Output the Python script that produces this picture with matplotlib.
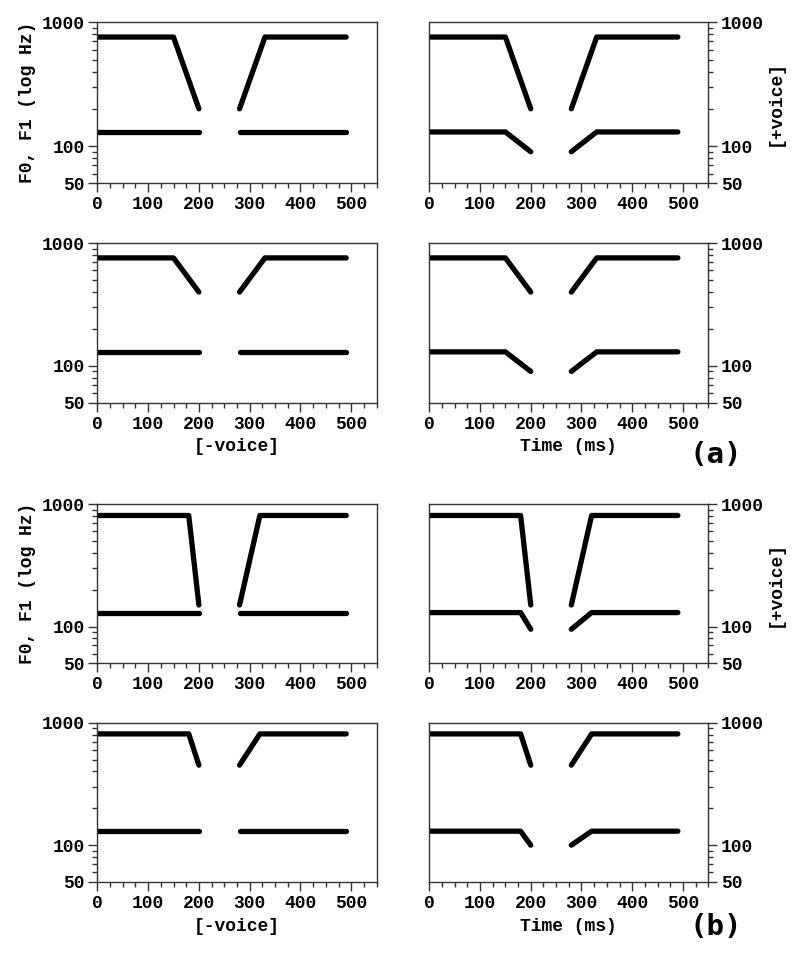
import numpy as np
import matplotlib
matplotlib.use("Agg")
import matplotlib.pyplot as plt
from matplotlib.ticker import FixedLocator, LogLocator, NullFormatter, MultipleLocator

# --- data (time in ms, frequency in Hz) ---
# panel (a)
t_a_left = [0, 150, 200]
t_a_right = [280, 330, 490]
f1_a_top_left = [760, 760, 200]
f1_a_top_right = [200, 760, 760]
f1_a_bot_left = [760, 760, 400]
f1_a_bot_right = [400, 760, 760]
f0_a_minus_left = [130, 130, 130]
f0_a_minus_right = [130, 130, 130]
f0_a_plus_left = [130, 130, 90]
f0_a_plus_right = [90, 130, 130]

# panel (b)
t_b_left = [0, 180, 200]
t_b_right = [280, 320, 490]
f1_b_top_left = [810, 810, 150]
f1_b_top_right = [150, 810, 810]
f1_b_bot_left = [810, 810, 450]
f1_b_bot_right = [450, 810, 810]
f0_b_minus_left = [130, 130, 130]
f0_b_minus_right = [130, 130, 130]
f0_b_plus_top_left = [130, 130, 95]
f0_b_plus_top_right = [95, 130, 130]
f0_b_plus_bot_left = [130, 130, 100]
f0_b_plus_bot_right = [100, 130, 130]

y_major = [50, 100, 1000]
y_labels = ["50", "100", "1000"]
x_major = [0, 100, 200, 300, 400, 500]

W, H = 800, 959
TICKFONT = dict(family="Liberation Mono", weight="bold", size=13)

fig = plt.figure(figsize=(W / 100, H / 100), dpi=100)


def make_ax(x0, x1, y0, y1, right=False):
    ax = fig.add_axes([x0 / W, 1 - y1 / H, (x1 - x0) / W, (y1 - y0) / H])
    ax.set_yscale("log")
    ax.set_xlim(0, 550)
    ax.set_ylim(50, 1000)
    ax.xaxis.set_major_locator(FixedLocator(x_major))
    ax.xaxis.set_minor_locator(MultipleLocator(25))
    ax.yaxis.set_major_locator(FixedLocator(y_major))
    ax.yaxis.set_minor_locator(LogLocator(base=10, subs=np.arange(2, 10)))
    ax.yaxis.set_minor_formatter(NullFormatter())
    ax.set_yticks(y_major)
    ax.set_yticklabels(y_labels)
    ax.set_xticklabels([str(v) for v in x_major])
    if right:
        ax.yaxis.tick_right()
    for lab in ax.get_xticklabels() + ax.get_yticklabels():
        lab.set_fontproperties(matplotlib.font_manager.FontProperties(**TICKFONT))
    ax.tick_params(which="major", direction="out", length=6.5, width=1.0,
                   color="#333333", pad=2.5)
    ax.tick_params(axis="x", which="major", pad=3.0)
    ax.tick_params(which="minor", direction="out", length=3.5, width=1.0,
                   color="#333333")
    for s in ax.spines.values():
        s.set_linewidth(1.0)
        s.set_color("#333333")
    return ax


def draw(ax, tl, fl, tr, fr):
    ax.plot(tl, fl, color="black", lw=3.8, solid_capstyle="round",
            solid_joinstyle="round")
    ax.plot(tr, fr, color="black", lw=3.8, solid_capstyle="round",
            solid_joinstyle="round")


LX = (97.3, 376.7)
RX = (429.3, 708.3)
rows = [(22.3, 183.3), (243.3, 402.7), (504.3, 663.3), (722.7, 882.0)]

# row 1 (a)
ax = make_ax(*LX, *rows[0])
draw(ax, t_a_left, f1_a_top_left, t_a_right, f1_a_top_right)
draw(ax, t_a_left, f0_a_minus_left, t_a_right, f0_a_minus_right)
ax.set_ylabel("F0, F1 (log Hz)", fontdict=TICKFONT, labelpad=4)

ax = make_ax(*RX, *rows[0], right=True)
draw(ax, t_a_left, f1_a_top_left, t_a_right, f1_a_top_right)
draw(ax, t_a_left, f0_a_plus_left, t_a_right, f0_a_plus_right)
ax.yaxis.set_label_position("right")
ax.set_ylabel("[+voice]", fontdict=TICKFONT, labelpad=2)

# row 2 (a)
ax = make_ax(*LX, *rows[1])
draw(ax, t_a_left, f1_a_bot_left, t_a_right, f1_a_bot_right)
draw(ax, t_a_left, f0_a_minus_left, t_a_right, f0_a_minus_right)
ax.set_xlabel("[-voice]", fontdict=TICKFONT, labelpad=4)

ax = make_ax(*RX, *rows[1], right=True)
draw(ax, t_a_left, f1_a_bot_left, t_a_right, f1_a_bot_right)
draw(ax, t_a_left, f0_a_plus_left, t_a_right, f0_a_plus_right)
ax.set_xlabel("Time (ms)", fontdict=TICKFONT, labelpad=4)

# row 3 (b)
ax = make_ax(*LX, *rows[2])
draw(ax, t_b_left, f1_b_top_left, t_b_right, f1_b_top_right)
draw(ax, t_b_left, f0_b_minus_left, t_b_right, f0_b_minus_right)
ax.set_ylabel("F0, F1 (log Hz)", fontdict=TICKFONT, labelpad=4)

ax = make_ax(*RX, *rows[2], right=True)
draw(ax, t_b_left, f1_b_top_left, t_b_right, f1_b_top_right)
draw(ax, t_b_left, f0_b_plus_top_left, t_b_right, f0_b_plus_top_right)
ax.yaxis.set_label_position("right")
ax.set_ylabel("[+voice]", fontdict=TICKFONT, labelpad=2)

# row 4 (b)
ax = make_ax(*LX, *rows[3])
draw(ax, t_b_left, f1_b_bot_left, t_b_right, f1_b_bot_right)
draw(ax, t_b_left, f0_b_minus_left, t_b_right, f0_b_minus_right)
ax.set_xlabel("[-voice]", fontdict=TICKFONT, labelpad=4)

ax = make_ax(*RX, *rows[3], right=True)
draw(ax, t_b_left, f1_b_bot_left, t_b_right, f1_b_bot_right)
draw(ax, t_b_left, f0_b_plus_bot_left, t_b_right, f0_b_plus_bot_right)
ax.set_xlabel("Time (ms)", fontdict=TICKFONT, labelpad=4)

# panel letters
fig.text(716 / W, 1 - 455 / H, "(a)", family="DejaVu Sans Mono", size=21,
         weight="bold", ha="center", va="center")
fig.text(716 / W, 1 - 927 / H, "(b)", family="DejaVu Sans Mono", size=21,
         weight="bold", ha="center", va="center")

fig.savefig("out.png", dpi=100, facecolor="white")
